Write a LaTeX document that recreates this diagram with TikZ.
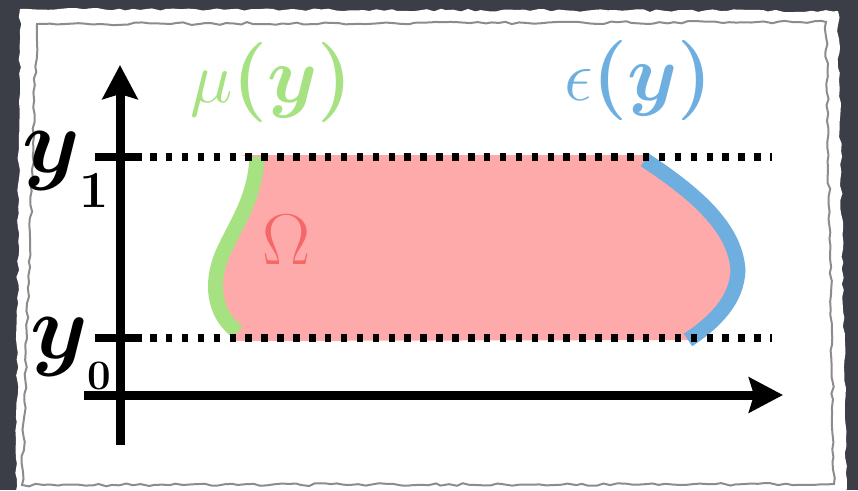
\documentclass[tikz,border=0pt]{standalone}
\usepackage{fix-cm}
\usepackage{amsmath,bm}
\usetikzlibrary{arrows.meta,decorations.pathmorphing}
\definecolor{board}{HTML}{3B3E47}
\definecolor{edgegray}{HTML}{8C8C8C}
\definecolor{chalkgreen}{HTML}{A6E282}
\definecolor{chalkblue}{HTML}{6FAFE0}
\definecolor{regionpink}{HTML}{FFAAAA}
\definecolor{omegared}{HTML}{F46868}
\tikzset{
  axis/.style={line width=9pt, -{Stealth[length=34pt,width=35pt,inset=5pt]}},
  level/.style={line width=8pt, dash pattern=on 6.5pt off 9.4pt},
  tickmark/.style={line width=8pt},
  bound/.style={line width=15pt},
  rough/.style={decorate, decoration={random steps, segment length=7pt, amplitude=1.4pt}},
  lbl/.style={inner sep=0pt, anchor=base west},
}

\begin{document}
\begin{tikzpicture}[x=1pt, y=-1pt]
  \pgfmathsetseed{11}
  \useasboundingbox (0,0) rectangle (858,490);
  % board and paper
  \fill[board] (0,0) rectangle (858,490);
  \fill[white, rough] (20,9) -- (838,11) -- (847,500) -- (16,500) -- cycle;
  \draw[edgegray, line width=2pt, rough] (37,24) -- (826,22) -- (834,484) -- (22,485) -- cycle;

  % the region Omega
  \fill[regionpink] (240,155) -- (645,155) -- (645,160)
    .. controls (690,190) and (735,225) .. (738,270)
    .. controls (737,300) and (715,322) .. (688,340)
    -- (230,341) -- (238,332)
    .. controls (218,318) and (208,290) .. (222,255)
    .. controls (235,225) and (255,200) .. (257,158) -- cycle;
  \draw[bound, chalkgreen] (257,157) .. controls (255,200) and (235,225) .. (222,255)
    .. controls (208,290) and (218,318) .. (238,332);
  \draw[bound, chalkblue] (645,160) .. controls (690,190) and (735,225) .. (738,270)
    .. controls (737,300) and (715,322) .. (688,340);

  % levels y1 and y0
  \coordinate (t1) at (95,157);
  \coordinate (a1) at (142,157);
  \coordinate (b1) at (150,157);
  \coordinate (e1) at (772,157);
  \coordinate (t0) at (95,338);
  \coordinate (a0) at (142,338);
  \coordinate (b0) at (150,338);
  \coordinate (e0) at (772,338);
  \draw[tickmark] (t1) -- (a1);
  \draw[level] (b1) -- (e1);
  \draw[tickmark] (t0) -- (a0);
  \draw[level] (b0) -- (e0);

  % axes
  \coordinate (ybot) at (120,445);
  \coordinate (ytop) at (120,65);
  \coordinate (xleft) at (84,395);
  \coordinate (xright) at (783,395);
  \draw[axis] (ybot) -- (ytop);
  \draw[axis] (xleft) -- (xright);

  % labels
  \node[lbl, font=\fontsize{92}{92}\selectfont] (yone) at (22,172)
    {$\bm{y}$\raisebox{-35pt}{\fontsize{52}{52}\bfseries 1}};
  \node[lbl, font=\fontsize{92}{92}\selectfont] (yzero) at (30,358)
    {$\bm{y}$\raisebox{-31pt}{\fontsize{42}{42}\bfseries 0}};
  \node[lbl, text=chalkgreen, font=\fontsize{72}{72}\selectfont] (mu) at (190,102)
    {$\mu$\fontsize{80}{80}\selectfont$\bm{(y)}$};
  \node[lbl, text=chalkblue, font=\fontsize{72}{72}\selectfont] (eps) at (564,100)
    {$\epsilon$\fontsize{80}{80}\selectfont$\bm{(y)}$};
  \node[lbl, text=omegared, font=\fontsize{72}{72}\selectfont] (omega) at (262,264) {$\Omega$};
\end{tikzpicture}
\end{document}
